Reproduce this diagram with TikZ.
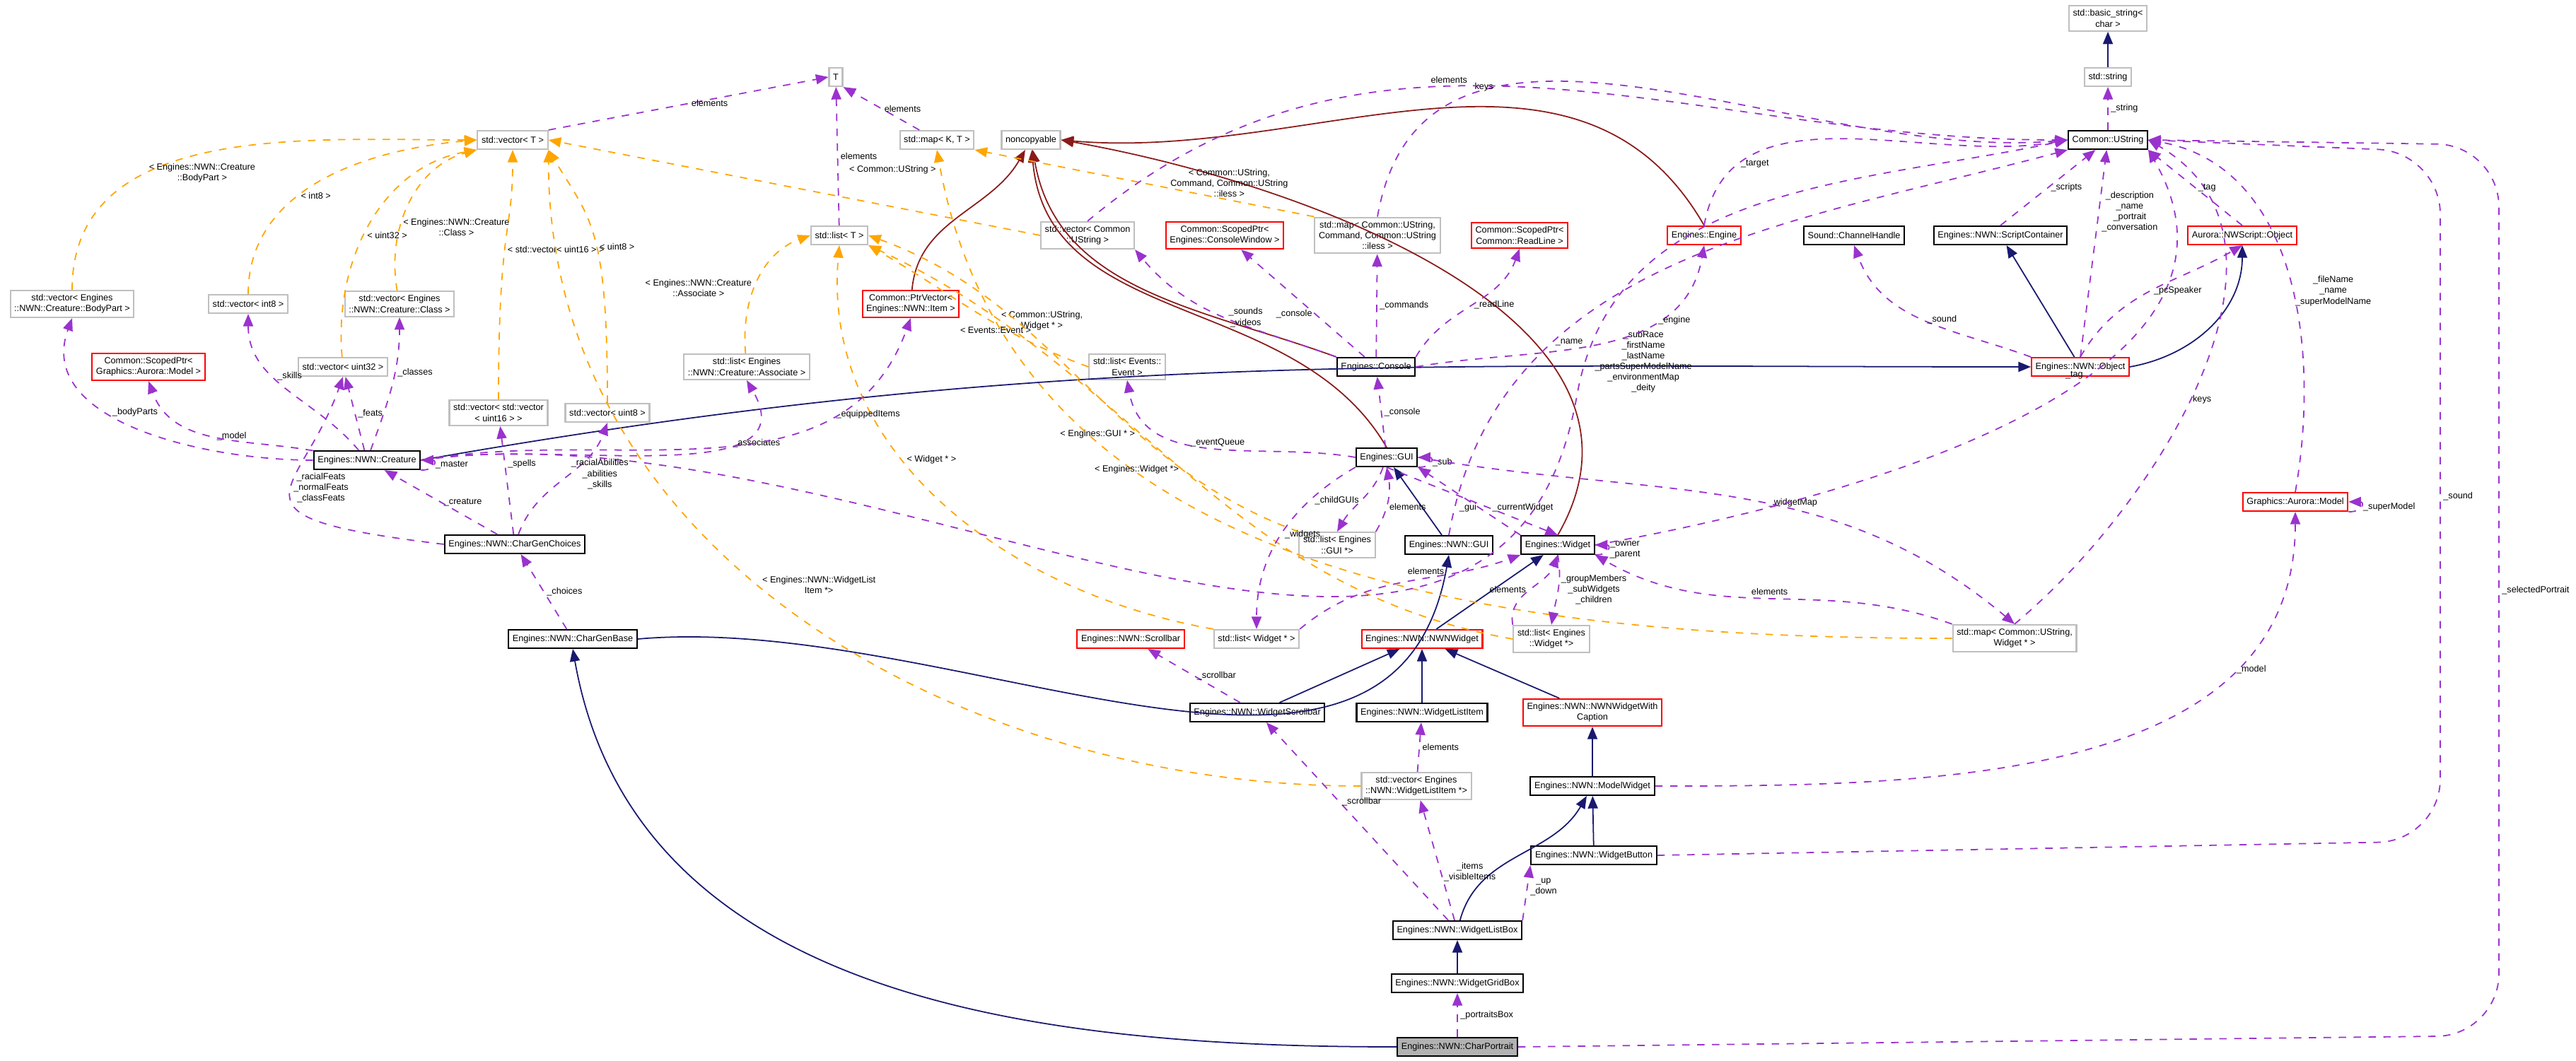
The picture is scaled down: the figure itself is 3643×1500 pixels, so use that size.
\documentclass[tikz,border=0pt]{standalone}
\usepackage{fontspec}
\setmainfont{Liberation Sans}
\usetikzlibrary{arrows.meta}
\definecolor{usecol}{RGB}{154,50,205}
\definecolor{tmplcol}{RGB}{255,165,0}
\definecolor{inhcol}{RGB}{25,25,112}
\definecolor{privcol}{RGB}{139,26,26}
\begin{document}
\begin{tikzpicture}[x=0.01cm,y=-0.01cm,font=\fontsize{3.6}{4.3}\selectfont]
	\tikzstyle{klass} = [draw=black,line width=0.6pt,fill=white,inner sep=1.6pt,minimum height=0.26cm,align=center]
	\tikzstyle{redklass} = [klass,draw=red]
	\tikzstyle{ext} = [klass,draw=black!25]
	\tikzstyle{usage} = [-{Triangle[length=5pt,width=4pt]},usecol,dashed,line width=0.5pt]
	\tikzstyle{tmpl} = [-{Triangle[length=5pt,width=4pt]},tmplcol,dashed,line width=0.5pt]
	\tikzstyle{inherit} = [-{Triangle[length=5pt,width=4pt]},inhcol,line width=0.5pt]
	\tikzstyle{priv} = [-{Triangle[length=5pt,width=4pt]},privcol,line width=0.5pt]
	\tikzstyle{lbl} = [black,align=center,inner sep=1pt,font=\fontsize{3.6}{4.3}\selectfont]

	\useasboundingbox (0,0) rectangle (3643,1500);

	% row 1
	\node [ext] (basic) at (2981,26) {std::basic\_string\textless\\char \textgreater};
	\node [ext] (str) at (2981,109) {std::string};
	\node [ext] (T) at (1182,109) {T};
	\node [klass] (ustr) at (2981,198) {Common::UString};
	\node [ext] (mapkt) at (1325,198) {std::map\textless{} K, T \textgreater};
	\node [ext] (noncp) at (1458,198) {noncopyable};
	\node [ext] (vect) at (725,198) {std::vector\textless{} T \textgreater};

	% row 2
	\node [ext] (listt) at (1187,333) {std::list\textless{} T \textgreater};
	\node [ext] (vecus) at (1538,333) {std::vector\textless{} Common\\::UString \textgreater};
	\node [redklass] (spcw) at (1732,333) {Common::ScopedPtr\textless\\Engines::ConsoleWindow \textgreater};
	\node [ext] (mapcmd) at (1948,333) {std::map\textless{} Common::UString,\\Command, Common::UString\\::iless \textgreater};
	\node [redklass] (sprl) at (2149,333) {Common::ScopedPtr\textless\\Common::ReadLine \textgreater};
	\node [redklass] (engine) at (2410,333) {Engines::Engine};
	\node [klass] (chan) at (2622,333) {Sound::ChannelHandle};
	\node [klass] (scont) at (2829,333) {Engines::NWN::ScriptContainer};
	\node [redklass] (nwsobj) at (3171,333) {Aurora::NWScript::Object};

	% row 3
	\node [ext] (vbody) at (102,430) {std::vector\textless{} Engines\\::NWN::Creature::BodyPart \textgreater};
	\node [ext] (vint8) at (351,430) {std::vector\textless{} int8 \textgreater};
	\node [ext] (vclass) at (565,430) {std::vector\textless{} Engines\\::NWN::Creature::Class \textgreater};
	\node [redklass] (ptrvec) at (1288,430) {Common::PtrVector\textless\\Engines::NWN::Item \textgreater};
	\node [redklass] (spmodel) at (210,519) {Common::ScopedPtr\textless\\Graphics::Aurora::Model \textgreater};
	\node [ext] (vu32) at (485,519) {std::vector\textless{} uint32 \textgreater};
	\node [ext] (lassoc) at (1056,519) {std::list\textless{} Engines\\::NWN::Creature::Associate \textgreater};
	\node [ext] (levent) at (1594,519) {std::list\textless{} Events::\\Event \textgreater};
	\node [klass] (console) at (1946,519) {Engines::Console};
	\node [redklass] (nobj) at (2942,519) {Engines::NWN::Object};
	\node [ext] (vvu16) at (705,584) {std::vector\textless{} std::vector\\\textless{} uint16 \textgreater{} \textgreater};
	\node [ext] (vu8) at (859,584) {std::vector\textless{} uint8 \textgreater};

	% row 4
	\node [klass] (creature) at (519,651) {Engines::NWN::Creature};
	\node [klass] (gui) at (1961,647) {Engines::GUI};
	\node [redklass] (gmodel) at (3246,710) {Graphics::Aurora::Model};
	\node [klass] (chgch) at (728,770) {Engines::NWN::CharGenChoices};
	\node [ext] (lgui) at (1891,771) {std::list\textless{} Engines\\::GUI *\textgreater};
	\node [klass] (ngui) at (2049,771) {Engines::NWN::GUI};
	\node [klass] (widget) at (2203,771) {Engines::Widget};

	% row 5
	\node [klass] (cgbase) at (810,904) {Engines::NWN::CharGenBase};
	\node [redklass] (scroll) at (1599,904) {Engines::NWN::Scrollbar};
	\node [ext] (lwidget) at (1777,904) {std::list\textless{} Widget * \textgreater};
	\node [redklass] (nwnw) at (2011,904) {Engines::NWN::NWNWidget};
	\node [ext] (lewidget) at (2194,904) {std::list\textless{} Engines\\::Widget *\textgreater};
	\node [ext] (mapw) at (2849,903) {std::map\textless{} Common::UString,\\Widget * \textgreater};

	% row 6
	\node [klass] (wscroll) at (1778,1008) {Engines::NWN::WidgetScrollbar};
	\node [klass] (wlitem) at (2011,1008) {Engines::NWN::WidgetListItem};
	\node [redklass] (wcap) at (2252,1008) {Engines::NWN::NWNWidgetWith\\Caption};
	\node [ext] (vwli) at (2003,1112) {std::vector\textless{} Engines\\::NWN::WidgetListItem *\textgreater};
	\node [klass] (mwidget) at (2252,1112) {Engines::NWN::ModelWidget};
	\node [klass] (wbutton) at (2254,1210) {Engines::NWN::WidgetButton};
	\node [klass] (wlbox) at (2061,1316) {Engines::NWN::WidgetListBox};
	\node [klass] (wgbox) at (2061,1391) {Engines::NWN::WidgetGridBox};
	\node [klass,fill=black!30] (cport) at (2061,1481) {Engines::NWN::CharPortrait};

	% inheritance
	\draw[inherit] (str) -- (basic);
	\draw[inherit] (creature.east) to[out=10,in=180] (nobj.west);
	\draw[inherit] (nobj) -- (scont);
	\draw[inherit] (nobj.east) to[out=10,in=-90] (nwsobj.south);
	\draw[inherit] (ngui) -- (gui);
	\draw[inherit] (cgbase.east) to[out=5,in=-100] (ngui.south);
	\draw[inherit] (nwnw) -- (widget);
	\draw[inherit] (wscroll) -- (nwnw);
	\draw[inherit] (wlitem) -- (nwnw);
	\draw[inherit] (wcap) -- (nwnw);
	\draw[inherit] (mwidget) -- (wcap);
	\draw[inherit] (wbutton) -- (mwidget);
	\draw[inherit] (wlbox) to[out=75,in=-120] (mwidget);
	\draw[inherit] (wgbox) -- (wlbox);
	\draw[inherit] (cport.west) to[out=180,in=-80] (cgbase.south);

	% noncopyable
	\draw[priv] (ptrvec) to[out=85,in=-120] (noncp);
	\draw[priv] (console.north west) to[out=160,in=-80] (noncp);
	\draw[priv] (gui.north) to[out=120,in=-85] (noncp);
	\draw[priv] (engine.north) to[out=120,in=-5] (noncp.east);
	\draw[priv] (widget.north) to[out=60,in=-10] (noncp.east);

	% templates
	\draw[tmpl] (vbody) to[out=90,in=180] node[lbl,pos=0.35,right]{\textless{} Engines::NWN::Creature\\::BodyPart \textgreater} (vect.west);
	\draw[tmpl] (vint8) to[out=90,in=185] node[lbl,pos=0.4,right]{\textless{} int8 \textgreater} (vect.west);
	\draw[tmpl] (vu32) to[out=95,in=190] node[lbl,pos=0.45,right]{\textless{} uint32 \textgreater} (vect.south west);
	\draw[tmpl] (vclass) to[out=100,in=195] node[lbl,pos=0.35,right]{\textless{} Engines::NWN::Creature\\::Class \textgreater} (vect.south west);
	\draw[tmpl] (vvu16.north) .. controls +(0,-250) and +(0,120) .. node[lbl,pos=0.45,right]{\textless{} std::vector\textless{} uint16 \textgreater{} \textgreater} (vect.south);
	\draw[tmpl] (vu8.north) .. controls +(0,-250) and +(60,100) .. node[lbl,pos=0.45,right]{\textless{} uint8 \textgreater} (vect.south east);
	\draw[tmpl] (vwli.west) to[out=180,in=-90] node[lbl,pos=0.55,right]{\textless{} Engines::NWN::WidgetList\\Item *\textgreater} (vect.south east);
	\draw[tmpl] (vecus.west) -- node[lbl,pos=0.3,above=12pt]{\textless{} Common::UString \textgreater} (vect.east);
	\draw[tmpl] (mapcmd.north west) -- node[lbl,pos=0.25,above]{\textless{} Common::UString,\\Command, Common::UString\\::iless \textgreater} (mapkt.south east);
	\draw[tmpl] (mapw.west) to[out=180,in=-80] node[lbl,pos=0.85,right]{\textless{} Common::UString,\\Widget * \textgreater} (mapkt.south);
	\draw[tmpl] (lassoc) to[out=95,in=200] node[lbl,pos=0.45,left]{\textless{} Engines::NWN::Creature\\::Associate \textgreater} (listt.west);
	\draw[tmpl] (levent.west) to[out=160,in=-30] node[lbl,pos=0.4,below]{\textless{} Events::Event \textgreater} (listt.south east);
	\draw[tmpl] (lgui.north west) to[out=160,in=-20] node[lbl,pos=0.35,left]{\textless{} Engines::GUI * \textgreater} (listt.east);
	\draw[tmpl] (lwidget.north west) to[out=170,in=-95] node[lbl,pos=0.6,right]{\textless{} Widget * \textgreater} (listt.south);
	\draw[tmpl] (lewidget.west) to[out=170,in=-25] node[lbl,pos=0.5,left]{\textless{} Engines::Widget *\textgreater} (listt.south east);

	% usage
	\draw[usage] (vect.north east) -- node[lbl,right]{elements} (T.west);
	\draw[usage] (listt) -- node[lbl,right]{elements} (T);
	\draw[usage] (mapkt) -- node[lbl,right]{elements} (T.south east);
	\draw[usage] (ustr) -- node[lbl,right]{\_string} (str);
	\draw[usage] (creature.west) to[out=180,in=-110] node[lbl,pos=0.6,right]{\_bodyParts} (vbody.south);
	\draw[usage] (creature) to[out=170,in=-70] node[lbl,pos=0.5,right]{\_model} (spmodel.south);
	\draw[usage] (creature) to[out=130,in=-90] node[lbl,pos=0.6,right]{\_skills} (vint8.south);
	\draw[usage] (creature) -- node[lbl,right]{\_feats} (vu32);
	\draw[usage] (creature) to[out=70,in=-90] node[lbl,pos=0.6,right]{\_classes} (vclass.south);
	\draw[usage] (creature.east) to[out=10,in=-60] node[lbl,pos=0.7,right]{\_associates} (lassoc.south);
	\draw[usage] (creature.east) to[out=10,in=-110] node[lbl,pos=0.75,right]{\_equippedItems} (ptrvec.south);
	\draw[usage] (creature.south east) to[out=0,in=0,looseness=4] node[lbl,right]{\_master} (creature.east);
	\coordinate (subrace) at (2230,560);
	\draw[usage] (creature.east) to[out=8,in=-100] (subrace) node[lbl,right=6pt,above right]{\_subRace\\\_firstName\\\_lastName\\\_partsSuperModelName\\\_environmentMap\\\_deity} to[out=80,in=192] (ustr.west);
	\draw[usage] (chgch) -- node[lbl,right]{\_creature} (creature);
	\draw[usage] (chgch.west) .. controls +(-330,-40) and +(-60,170) .. node[lbl,pos=0.55,right]{\_racialFeats\\\_normalFeats\\\_classFeats} (vu32.south);
	\draw[usage] (chgch) -- node[lbl,pos=0.65,right]{\_spells} (vvu16);
	\draw[usage] (chgch) to[out=70,in=-110] node[lbl,pos=0.55,right]{\_racialAbilities\\\_abilities\\\_skills} (vu8.south);
	\draw[usage] (cgbase) -- node[lbl,right]{\_choices} (chgch);
	\draw[usage] (console.north west) to[out=160,in=-50] node[lbl,pos=0.5,right]{\_sounds\\\_videos} (vecus.south east);
	\draw[usage] (console) -- node[lbl,pos=0.4,left]{\_console} (spcw);
	\draw[usage] (console) -- node[lbl,right]{\_commands} (mapcmd);
	\draw[usage] (console.north east) to[out=60,in=-110] node[lbl,right]{\_readLine} (sprl.south);
	\draw[usage] (console.east) to[out=10,in=-100] node[lbl,pos=0.7,right]{\_engine} (engine.south);
	\draw[usage] (gui) -- node[lbl,right]{\_console} (console);
	\draw[usage] (gui.west) to[out=170,in=-80] node[lbl,pos=0.6,right]{\_eventQueue} (levent.south);
	\draw[usage] (gui.south east) to[out=0,in=0,looseness=4] node[lbl,right]{\_sub} (gui.east);
	\draw[usage] (gui) to[out=-110,in=60] node[lbl,pos=0.5,left]{\_childGUIs} (lgui.north);
	\draw[usage] (lgui.north east) to[out=60,in=-80] node[lbl,pos=0.4,right]{elements} (gui.south);
	\draw[usage] (gui.south west) to[out=-150,in=90] node[lbl,pos=0.5,right]{\_widgets} (lwidget.north);
	\draw[usage] (gui.south) -- node[lbl,pos=0.6,right]{\_currentWidget} (widget.north);
	\draw[usage] (widget.north west) -- node[lbl,pos=0.4,left]{\_gui} (gui.south east);
	\draw[usage] (gui.east) to[out=-10,in=140] node[lbl,pos=0.6,above]{\_widgetMap} (mapw.north);
	\draw[usage] (widget.south east) to[out=0,in=0,looseness=4] node[lbl,right]{\_owner\\\_parent} (widget.east);
	\draw[usage] (widget.south) to[out=-80,in=80] node[lbl,pos=0.5,right]{\_groupMembers\\\_subWidgets\\\_children} (lewidget.north);
	\draw[usage] (lewidget.north west) to[out=100,in=-110] node[lbl,pos=0.5,left]{elements} (widget.south);
	\draw[usage] (lwidget.north east) to[out=40,in=-160] node[lbl,pos=0.6,above]{elements} (widget.south west);
	\draw[usage] (mapw.north west) to[out=160,in=-30] node[lbl,pos=0.5,above]{elements} (widget.south east);
	\draw[usage] (widget.east) to[out=10,in=-60] node[lbl,pos=0.6,left]{\_tag} (ustr.south east);
	\draw[usage] (mapw.north) to[out=40,in=-30] node[lbl,pos=0.45,right]{keys} (ustr.east);
	\draw[usage] (mapcmd.north) to[out=80,in=185] node[lbl,pos=0.3,left]{keys} (ustr.west);
	\draw[usage] (vecus.north) to[out=40,in=180] node[lbl,pos=0.4,above]{elements} (ustr.west);
	\draw[usage] (engine.north) to[out=80,in=190] node[lbl,pos=0.2,right]{\_target} (ustr.west);
	\draw[usage] (ngui.north) to[out=80,in=195] node[lbl,pos=0.3,right]{\_name} (ustr.south west);
	\draw[usage] (scont.north) -- node[lbl,right]{\_scripts} (ustr);
	\draw[usage] (nobj.north) -- node[lbl,pos=0.7,right]{\_description\\\_name\\\_portrait\\\_conversation} (ustr);
	\draw[usage] (nwsobj.north) -- node[lbl,right]{\_tag} (ustr.south east);
	\draw[usage] (nobj.north west) to[out=160,in=-70] node[lbl,pos=0.5,right]{\_sound} (chan.south);
	\draw[usage] (nobj.north) to[out=60,in=-150] node[lbl,pos=0.5,right]{\_pcSpeaker} (nwsobj.south);
	\draw[usage] (gmodel.north) to[out=80,in=-10] node[lbl,pos=0.45,right]{\_fileName\\\_name\\\_superModelName} (ustr.east);
	\draw[usage] (gmodel.south east) to[out=0,in=0,looseness=4] node[lbl,right]{\_superModel} (gmodel.east);
	\draw[usage] (mwidget.east) to[out=0,in=-90] node[lbl,pos=0.75,right]{\_model} (gmodel.south);
	\draw[usage,rounded corners=25pt] (wbutton.east) -- (3451,1190) -- node[lbl,pos=0.5,right]{\_sound} (3451,215) -- (ustr.east);
	\draw[usage,rounded corners=25pt] (cport.east) -- (3534,1465) -- node[lbl,pos=0.5,right]{\_selectedPortrait} (3534,205) -- (ustr.east);
	\draw[usage] (wscroll) -- node[lbl,right]{\_scrollbar} (scroll);
	\draw[usage] (wlbox) -- node[lbl,pos=0.6,right]{\_scrollbar} (wscroll);
	\draw[usage] (wlbox) -- node[lbl,pos=0.4,right]{\_items\\\_visibleItems} (vwli);
	\draw[usage] (vwli) -- node[lbl,right]{elements} (wlitem);
	\draw[usage] (wlbox.north east) -- node[lbl,pos=0.6,right]{\_up\\\_down} (wbutton.south west);
	\draw[usage] (cport) -- node[lbl,right]{\_portraitsBox} (wgbox);
\end{tikzpicture}
\end{document}
